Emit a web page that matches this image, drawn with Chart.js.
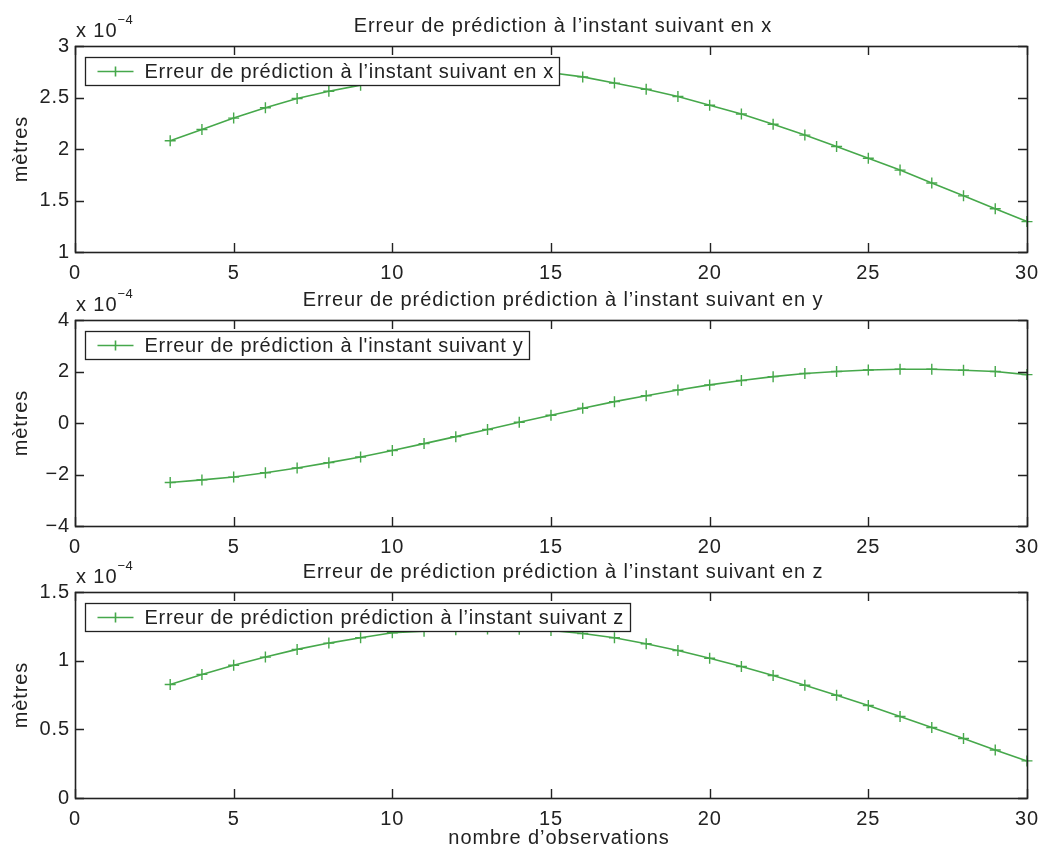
<!DOCTYPE html>
<html>
<head>
<meta charset="utf-8">
<script src="https://cdn.jsdelivr.net/npm/chart.js@4.4.1/dist/chart.umd.min.js"></script>
<style>
  html, body { margin: 0; padding: 0; background: #ffffff; }
  #wrap { position: relative; width: 1048px; height: 851px; overflow: hidden; background: #ffffff; }
  #wrap canvas { position: absolute; left: 0; }
</style>
</head>
<body>
<div id="wrap">
  <canvas id="panelX" width="1048" height="300" style="top:0px"></canvas>
  <canvas id="panelY" width="1048" height="300" style="top:274px"></canvas>
  <canvas id="panelZ" width="1048" height="305" style="top:546px"></canvas>
</div>
<script>
// Number of observations used for each prediction
const observations = [3, 4, 5, 6, 7, 8, 9, 10, 11, 12, 13, 14, 15, 16, 17, 18, 19, 20, 21, 22, 23, 24, 25, 26, 27, 28, 29, 30];

// Prediction errors at the next instant, in units of 1e-4 m
const errX = [2.08, 2.19, 2.30, 2.40, 2.49, 2.56, 2.62, 2.67, 2.71, 2.735, 2.745, 2.745, 2.74, 2.70,
              2.64, 2.58, 2.51, 2.425, 2.34, 2.24, 2.135, 2.025, 1.91, 1.795, 1.67, 1.545, 1.42, 1.295];
const errY = [-2.31, -2.21, -2.10, -1.93, -1.75, -1.54, -1.32, -1.07, -0.80, -0.53, -0.25, 0.03, 0.30, 0.57,
              0.83, 1.06, 1.28, 1.48, 1.65, 1.80, 1.92, 2.00, 2.06, 2.09, 2.09, 2.05, 2.00, 1.88];
const errZ = [0.826, 0.90, 0.967, 1.026, 1.082, 1.128, 1.167, 1.203, 1.215, 1.225, 1.23, 1.228, 1.22, 1.198,
              1.167, 1.123, 1.074, 1.018, 0.958, 0.892, 0.821, 0.748, 0.673, 0.593, 0.513, 0.433, 0.35, 0.27];

// Axis ticks
const xTicks = [0, 5, 10, 15, 20, 25, 30];
const yTicksX = [1, 1.5, 2, 2.5, 3];
const yTicksY = [-4, -2, 0, 2, 4];
const yTicksZ = [0, 0.5, 1, 1.5];

// Texts
const titles = [
  "Erreur de prédiction à l’instant suivant en x",
  "Erreur de prédiction prédiction à l’instant suivant en y",
  "Erreur de prédiction prédiction à l’instant suivant en z"
];
const legends = [
  "Erreur de prédiction à l’instant suivant en x",
  "Erreur de prédiction à l'instant suivant y",
  "Erreur de prédiction prédiction à l’instant suivant z"
];
const yLabel = "mètres";
const xLabel = "nombre d’observations";
const exponentBase = "x 10";
const exponent = "−4";

const GREEN = "#46a84b";
const INK = "#222222";
const FONT = "'Liberation Sans', Arial, Helvetica, sans-serif";
const FS = 20;                  // main font size
const SPACING = "0.9px";        // slightly wide letter spacing of the printed figure
const LEGEND_SPACING = "0.7px"; // legend text is a bit tighter

function fmtTick(v) {
  const s = String(Math.round(v * 1000) / 1000);
  return s.replace("-", "−");
}

// Applies the letter spacing to every text drawn on the canvas
const spacingPlugin = {
  id: "spacing",
  beforeLayout(chart) { chart.ctx.letterSpacing = SPACING; },
  beforeDraw(chart) { chart.ctx.letterSpacing = SPACING; }
};

// Draws the box, inward ticks, titles, exponent and legend of one panel
function framePlugin(panel) {
  return {
    id: "frame" + panel.index,
    afterDraw(chart) {
      const ctx = chart.ctx;
      const a = chart.chartArea;
      const xs = chart.scales.x;
      const ys = chart.scales.y;
      const TL = 9;
      const midX = (a.left + a.right) / 2;
      ctx.save();
      ctx.letterSpacing = SPACING;
      ctx.strokeStyle = INK;
      ctx.lineWidth = 1.4;
      // inward tick marks on all four sides
      ctx.beginPath();
      xTicks.forEach(v => {
        const px = Math.round(xs.getPixelForValue(v)) + 0.5;
        ctx.moveTo(px, a.bottom); ctx.lineTo(px, a.bottom - TL);
        ctx.moveTo(px, a.top); ctx.lineTo(px, a.top + TL);
      });
      panel.yTicks.forEach(v => {
        const py = Math.round(ys.getPixelForValue(v)) + 0.5;
        ctx.moveTo(a.left, py); ctx.lineTo(a.left + TL, py);
        ctx.moveTo(a.right, py); ctx.lineTo(a.right - TL, py);
      });
      ctx.stroke();
      // axes box
      ctx.lineWidth = 1.6;
      ctx.strokeRect(Math.round(a.left) + 0.5, Math.round(a.top) + 0.5,
                     Math.round(a.right - a.left), Math.round(a.bottom - a.top));

      // title
      ctx.fillStyle = INK;
      ctx.font = FS + "px " + FONT;
      ctx.textAlign = "center";
      ctx.textBaseline = "alphabetic";
      ctx.fillText(titles[panel.index], midX + 12, a.top - 14);

      // exponent annotation
      ctx.textAlign = "left";
      const bx = a.left + 1;
      ctx.fillText(exponentBase, bx, a.top - 9);
      const w = ctx.measureText(exponentBase).width;
      ctx.font = "13px " + FONT;
      ctx.letterSpacing = "0.5px";
      ctx.fillText(exponent, bx + w, a.top - 22);
      ctx.letterSpacing = SPACING;

      // y axis label
      ctx.font = FS + "px " + FONT;
      ctx.save();
      ctx.translate(21, (a.top + a.bottom) / 2);
      ctx.rotate(-Math.PI / 2);
      ctx.textAlign = "center";
      ctx.textBaseline = "middle";
      ctx.fillText(yLabel, 0, 0);
      ctx.restore();

      // x axis label on the last panel
      if (panel.xLabel) {
        ctx.textAlign = "center";
        ctx.textBaseline = "middle";
        ctx.fillText(xLabel, midX + 8, a.bottom + 40);
      }

      // legend box
      ctx.letterSpacing = LEGEND_SPACING;
      const text = legends[panel.index];
      const tw = ctx.measureText(text).width;
      const lx = Math.round(a.left + 10) + 0.5;
      const ly = Math.round(a.top + 11) + 0.5;
      const lw = Math.round(59 + tw + 6);
      const lh = 28;
      ctx.fillStyle = "#ffffff";
      ctx.fillRect(lx, ly, lw, lh);
      ctx.strokeStyle = INK;
      ctx.lineWidth = 1.3;
      ctx.strokeRect(lx, ly, lw, lh);
      const cy = ly + lh / 2;
      ctx.strokeStyle = GREEN;
      ctx.lineWidth = 1.6;
      ctx.beginPath();
      ctx.moveTo(lx + 12, cy); ctx.lineTo(lx + 48, cy);
      ctx.moveTo(lx + 30, cy - 5); ctx.lineTo(lx + 30, cy + 5);
      ctx.stroke();
      ctx.fillStyle = INK;
      ctx.textAlign = "left";
      ctx.textBaseline = "middle";
      ctx.fillText(text, lx + 59, cy + 1);
      ctx.restore();
    }
  };
}

function makePanel(canvasId, panel) {
  return new Chart(document.getElementById(canvasId), {
    type: "line",
    data: {
      datasets: [{
        label: legends[panel.index],
        data: observations.map((o, i) => ({ x: o, y: panel.values[i] })),
        borderColor: GREEN,
        backgroundColor: GREEN,
        borderWidth: 1.6,
        pointStyle: "cross",
        pointRadius: 5.5,
        pointHoverRadius: 5.5,
        pointBorderWidth: 1.4,
        tension: 0,
        fill: false,
        clip: false
      }]
    },
    options: {
      responsive: false,
      animation: false,
      devicePixelRatio: 1,
      events: [],
      layout: { padding: { top: 46, right: 20, left: 0, bottom: 0 } },
      plugins: {
        legend: { display: false },
        title: { display: false },
        tooltip: { enabled: false }
      },
      scales: {
        x: {
          type: "linear",
          min: 0,
          max: 30,
          afterBuildTicks: s => { s.ticks = xTicks.map(v => ({ value: v })); },
          afterFit: s => { s.height = panel.bottomSpace; },
          grid: { display: false, drawTicks: false },
          border: { display: false },
          ticks: {
            padding: 9,
            color: INK,
            font: { family: FONT, size: FS },
            maxRotation: 0,
            autoSkip: false,
            callback: v => fmtTick(v)
          }
        },
        y: {
          type: "linear",
          min: panel.min,
          max: panel.max,
          afterBuildTicks: s => { s.ticks = panel.yTicks.map(v => ({ value: v })); },
          afterFit: s => { s.width = 75; },
          grid: { display: false, drawTicks: false },
          border: { display: false },
          ticks: {
            padding: 5,
            color: INK,
            font: { family: FONT, size: FS },
            autoSkip: false,
            callback: v => fmtTick(v)
          }
        }
      }
    },
    plugins: [spacingPlugin, framePlugin(panel)]
  });
}

makePanel("panelX", { index: 0, values: errX, min: 1, max: 3, yTicks: yTicksX, bottomSpace: 48, xLabel: false });
makePanel("panelY", { index: 1, values: errY, min: -4, max: 4, yTicks: yTicksY, bottomSpace: 48, xLabel: false });
makePanel("panelZ", { index: 2, values: errZ, min: 0, max: 1.5, yTicks: yTicksZ, bottomSpace: 53, xLabel: true });
</script>
</body>
</html>
